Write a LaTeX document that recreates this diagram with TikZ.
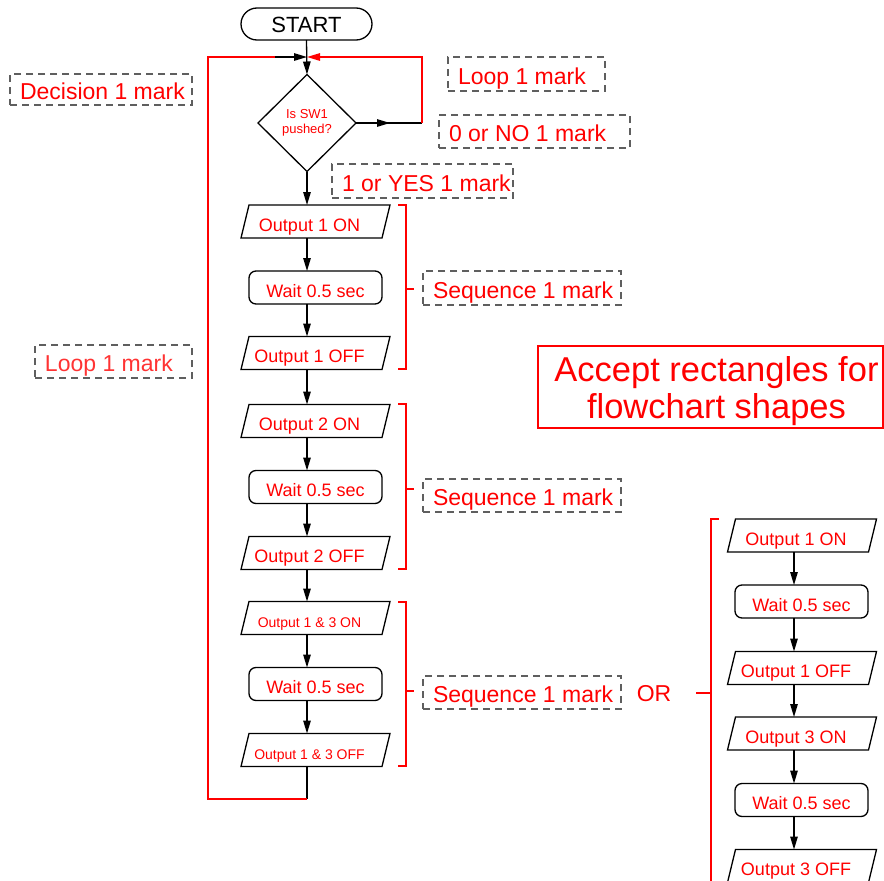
\documentclass[tikz,border=0pt]{standalone}
\usepackage{fontspec}
\setmainfont{Liberation Sans}
\usetikzlibrary{shapes.geometric,arrows.meta}
\definecolor{dgray}{RGB}{95,95,95}
\newcommand{\lbtext}[2]{\makebox[#1pt][l]{#2}}
\begin{document}
\begin{tikzpicture}[x=1pt,y=-1pt,
  every node/.style={inner sep=0pt, outer sep=0pt},
  lw/.style={line width=1.3pt},
  arr/.style={lw,-{Triangle[length=13pt,width=7.5pt]}},
  io/.style={minimum width=141pt, minimum height=33pt, text=red,
    font=\fontsize{18}{20}\selectfont, text height=19pt, text depth=0pt,
    execute at end node={\hspace{12pt}},
    append after command={\pgfextra{\draw[lw, line join=miter]
      ([xshift=4pt]\tikzlastnode.north west) -- ([xshift=4pt]\tikzlastnode.north east)
      -- ([xshift=-4pt]\tikzlastnode.south east) -- ([xshift=-4pt]\tikzlastnode.south west) -- cycle;}}},
  iosmall/.style={io, font=\fontsize{14}{16}\selectfont, text height=18pt},
  waitbox/.style={draw, lw, rounded corners=7pt, minimum width=133pt, minimum height=33pt,
    text=red, font=\fontsize{18}{20}\selectfont, text height=19pt, text depth=0pt},
  lbl/.style={draw=dgray, line width=1.2pt, dash pattern=on 7pt off 5pt, text=red,
    font=\fontsize{23}{26}\selectfont, inner xsep=10pt, anchor=north west,
    text height=20.5pt, text depth=0pt},
  brk/.style={red, lw}
]
\useasboundingbox (0,0) rectangle (884,881);

% start and decision
\node[draw, lw, rounded corners=16pt, minimum width=131pt, minimum height=32pt,
  font=\fontsize{22}{24}\selectfont, text height=16pt, text depth=0pt] (start) at (306.5,24) {START};
\node[draw, lw, diamond, minimum width=98pt, minimum height=97pt, text=red,
  font=\fontsize{13}{14.5}\selectfont, align=center] (d) at (307,123) {Is SW1\\pushed?};

\coordinate (J) at (307,57);
\coordinate (M) at (390,123);
\coordinate (R) at (422,123);
\coordinate (TL) at (208,57);
\coordinate (L) at (275,57);
\coordinate (B) at (307,799);

% left column
\node[io] (a1) at (315.5,221.5) {Output 1 ON};
\node[waitbox] (a2) at (315.5,287.5) {Wait 0.5 sec};
\node[io] (a3) at (315.5,353) {Output 1 OFF};
\node[io] (a4) at (315.5,421) {Output 2 ON};
\node[waitbox] (a5) at (315.5,487) {Wait 0.5 sec};
\node[io] (a6) at (315.5,553) {Output 2 OFF};
\node[iosmall] (a7) at (315.5,618) {Output 1 \& 3 ON};
\node[waitbox] (a8) at (315.5,684) {Wait 0.5 sec};
\node[iosmall] (a9) at (315.5,750) {Output 1 \& 3 OFF};

% right column
\coordinate (rl) at (794,519);
\node[io] (b1) at (802,535.5) {Output 1 ON};
\node[waitbox] (b2) at (801.5,601.5) {Wait 0.5 sec};
\node[io] (b3) at (802,668) {Output 1 OFF};
\node[io] (b4) at (802,733.5) {Output 3 ON};
\node[waitbox] (b5) at (801.5,800) {Wait 0.5 sec};
\node[io] (b6) at (802,866) {Output 3 OFF};

% connectors
\draw[arr] (start.south) -- (d.north);
\draw[arr] (d.south) -- (a1.north -| d.south);
\foreach \i/\j in {a1/a2,a2/a3,a3/a4,a4/a5,a5/a6,a6/a7,a7/a8,a8/a9}
  \draw[arr] (\i.south -| d.south) -- (\j.north -| d.south);
\foreach \i/\j in {b1/b2,b2/b3,b3/b4,b4/b5,b5/b6}
  \draw[arr] (\i.south -| rl) -- (\j.north -| rl);

\draw[lw] (d.east) -- (R);
\draw[arr] (d.east) -- (M);
\draw[red, arr] (R) |- (J);
\draw[lw] (a9.south -| d.south) -- (B);
\draw[red, lw] (B) -| (TL) -- (L);
\draw[arr] (L) -- (J);

% brackets
\draw[brk] (398,205) -- (406,205) -- (406,369) -- (398,369);
\draw[brk] (406,289) -- (414,289);
\draw[brk] (398,404) -- (406,404) -- (406,569) -- (398,569);
\draw[brk] (406,489) -- (414,489);
\draw[brk] (398,602) -- (406,602) -- (406,766) -- (398,766);
\draw[brk] (406,691) -- (414,691);
\draw[brk] (719,519) -- (711,519) -- (711,890);
\draw[brk] (696,693) -- (711,693);

% labels
\node[lbl, minimum width=182pt, minimum height=31pt] (dec) at (10,74) {\lbtext{162}{Decision 1 mark}};
\node[lbl, minimum width=157pt, minimum height=33pt, text=red!80] (loopl) at (35,345) {\lbtext{137}{Loop 1 mark}};
\node[lbl, minimum width=157pt, minimum height=34pt] (loopr) at (448,57) {\lbtext{137}{Loop 1 mark}};
\node[lbl, minimum width=191pt, minimum height=33pt] (no) at (439,115) {\lbtext{171}{0 or NO 1 mark}};
\node[lbl, minimum width=181pt, minimum height=34pt] (yes) at (332,164) {\lbtext{161}{1 or YES 1 mark}};
\node[lbl, minimum width=198pt, minimum height=34pt] (s1) at (423,271) {\lbtext{178}{Sequence 1 mark}};
\node[lbl, minimum width=198pt, minimum height=33pt] (s2) at (423,479) {\lbtext{178}{Sequence 1 mark}};
\node[lbl, minimum width=198pt, minimum height=33pt] (s3) at (423,676) {\lbtext{178}{Sequence 1 mark}};

\node[text=red, font=\fontsize{23}{26}\selectfont, text height=17pt, text depth=0pt] (or) at (654,693) {OR};

\node[draw=red, line width=1.2pt, minimum width=345pt, minimum height=82pt,
  label={[text=red, align=center, font=\fontsize{34.5}{37}\selectfont, xshift=6pt, yshift=-4.5pt]center:Accept rectangles for\\flowchart shapes}]
  (acc) at (710.5,387) {};
\end{tikzpicture}
\end{document}
